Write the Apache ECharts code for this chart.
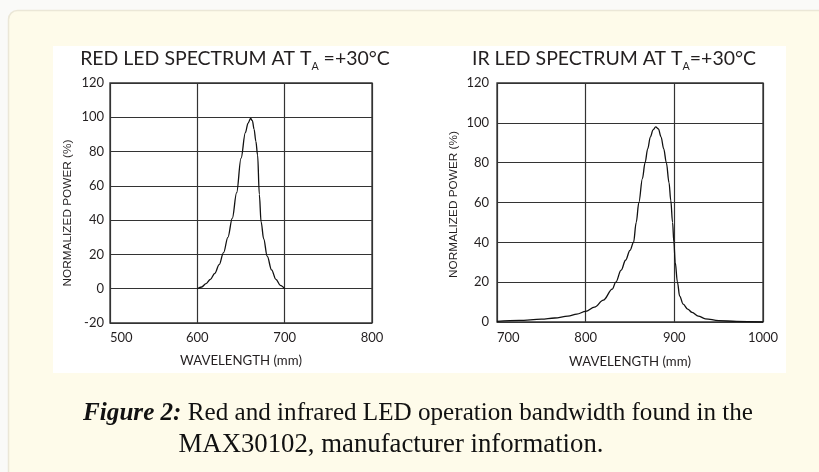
<!DOCTYPE html>
<html>
<head>
<meta charset="utf-8">
<script src="https://cdn.jsdelivr.net/npm/echarts@6/dist/echarts.min.js"></script>
<style>
html,body{margin:0;padding:0;background:#fafaf8;}
#chart{width:819px;height:472px;}
</style>
</head>
<body>
<div id="chart"></div>
<script>
// ---------- data ----------
const redWavelength = [600,605,610,615,620,625,630,635,640,645,650,655,658,661,663,665,667,669,671,673,676,680,685,690,695,700];
const redPower      = [0,1,3,5.5,9,14,21,30,41,56,76,91,96.5,99.3,98,93,86,78,55,39,29,19,11,5.5,2,0];

const irWavelength = [700,725,750,765,780,790,800,810,820,830,834,840,845,850,854,857,860,864,867,870,873,876,879,882,885,888,891,894,896,898,899.5,901,903.5,906,910,915,920,927,935,950,970,1000];
const irPower      = [0.3,0.8,1.4,2,3,4,5.3,7.5,11,16.5,20,26,31,36,40,50,60,72,80,87,93,96.5,98,97,93,87,80,70,61,50,40,30,20,13,9,6.5,4.8,3,1.6,0.7,0.3,0];

const redXTicks = [500,600,700,800];
const redYTicks = [-20,0,20,40,60,80,100,120];
const irXTicks  = [700,800,900,1000];
const irYTicks  = [0,20,40,60,80,100,120];

const redTitle = ['RED LED SPECTRUM AT T','A',' =+30°C'];
const irTitle  = ['IR LED SPECTRUM AT T','A','=+30°C'];
const xName = 'WAVELENGTH (mm)';
const yName = 'NORMALIZED POWER (%)';
const captionBold = 'Figure 2:';
const captionLine1 = ' Red and infrared LED operation bandwidth found in the';
const captionLine2 = 'MAX30102, manufacturer information.';

// ---------- text fitting helpers ----------
const ctx = document.createElement('canvas').getContext('2d');
function widthAt(parts, size){
  let w = 0;
  for (const p of parts){
    ctx.font = (p.style||'normal') + ' ' + (p.weight||'normal') + ' ' + (size*(p.scale||1)) + 'px ' + p.family;
    w += ctx.measureText(p.text).width;
  }
  return w;
}
function fit(parts, target){ return 100*target/widthAt(parts,100); }

const SANS = 'Lato';
const YFONT = "'Liberation Sans'";
const SERIF = "'Liberation Serif'";
const INK = '#231f20';
const SUB = 0.55;

const tL = fit([{text:redTitle[0],family:SANS},{text:redTitle[1],family:SANS,scale:SUB},{text:redTitle[2],family:SANS}], 306);
const tR = fit([{text:irTitle[0],family:SANS},{text:irTitle[1],family:SANS,scale:SUB},{text:irTitle[2],family:SANS}], 288);
const tSize = (tL+tR)/2;

const c1 = fit([{text:captionBold,family:SERIF,style:'italic',weight:'bold'},{text:captionLine1,family:SERIF}], 670);
const c2 = (c1 + fit([{text:captionLine2,family:SERIF}], 451)) / 2;

const xnSize = fit([{text:xName,family:SANS}], 122);
const ynSize = fit([{text:yName,family:YFONT}], 147);

function titleRich(){
  return {
    m: {fontFamily:SANS, fontSize:tSize, fontWeight:'normal', color:INK},
    s: {fontFamily:SANS, fontSize:tSize*SUB, fontWeight:'normal', color:INK, padding:[tSize*0.84,0,0,0]}
  };
}
function chartTitle(parts, cx){
  return {
    text: '{m|' + parts[0] + '}{s|' + parts[1] + '}{m|' + parts[2] + '}',
    left: cx, top: 58.5, padding: 0,
    textAlign: 'center', textVerticalAlign: 'middle',
    textStyle: {fontWeight:'normal', rich: titleRich()}
  };
}

const GRIDLINE = {color:'#333', width:1.2};
function xAxisCfg(grid, ticks, margin, gap){
  return {
    type:'value', gridIndex:grid,
    min: ticks[0], max: ticks[ticks.length-1], interval: ticks[1]-ticks[0],
    axisLine:{show:false}, axisTick:{show:false},
    splitLine:{show:true, lineStyle:GRIDLINE},
    axisLabel:{margin:margin, fontFamily:SANS, fontSize:13, color:INK, alignMinLabel:'left', formatter:v => String(v)},
    name: xName, nameLocation:'middle', nameGap:gap,
    nameTextStyle:{fontFamily:SANS, fontSize:xnSize, color:INK}
  };
}
function yAxisCfg(grid, ticks, margin, gap, shift){
  return {
    type:'value', gridIndex:grid,
    min: ticks[0], max: ticks[ticks.length-1], interval: ticks[1]-ticks[0],
    axisLine:{show:false}, axisTick:{show:false},
    splitLine:{show:true, lineStyle:GRIDLINE},
    axisLabel:{margin:margin, fontFamily:SANS, fontSize:13, color:INK, formatter:v => String(v)},
    name: yName, nameLocation:'middle', nameGap:gap,
    nameTextStyle:{fontFamily:YFONT, fontSize:ynSize, color:INK, padding:[0,shift*2,0,0]}
  };
}

const chart = echarts.init(document.getElementById('chart'), null, {renderer:'canvas'});
chart.setOption({
  animation:false,
  backgroundColor:'transparent',
  graphic:[
    {type:'rect', z:-100, shape:{x:8.5, y:10.5, width:830, height:480, r:9}, style:{fill:'#fefbea', stroke:'#ebe7d7', lineWidth:1.5}},
    {type:'rect', z:-99, shape:{x:53, y:46, width:733, height:327}, style:{fill:'#ffffff'}}
  ],
  title:[
    chartTitle(redTitle, 235),
    chartTitle(irTitle, 614),
    {
      text:'{b|' + captionBold + '}{r|' + captionLine1 + '}',
      left:418, top:413, padding:0, textAlign:'center', textVerticalAlign:'middle',
      textStyle:{fontWeight:'normal', rich:{
        b:{fontFamily:SERIF, fontSize:c1, fontStyle:'italic', fontWeight:'bold', color:'#111'},
        r:{fontFamily:SERIF, fontSize:c1, fontWeight:'normal', color:'#111'}
      }}
    },
    {
      text:captionLine2, left:391, top:445, padding:0, textAlign:'center', textVerticalAlign:'middle',
      textStyle:{fontFamily:SERIF, fontSize:c2, fontWeight:'normal', color:'#111'}
    }
  ],
  grid:[
    {left:110, top:83, width:262, height:240, show:true, borderColor:'#333', borderWidth:1.3, backgroundColor:'#fff', outerBoundsMode:'none'},
    {left:497, top:83, width:266, height:239, show:true, borderColor:'#333', borderWidth:1.3, backgroundColor:'#fff', outerBoundsMode:'none'}
  ],
  xAxis:[ xAxisCfg(0, redXTicks, 8, 31), xAxisCfg(1, irXTicks, 9, 33) ],
  yAxis:[ yAxisCfg(0, redYTicks, 6, 36, 10), yAxisCfg(1, irYTicks, 8, 37, 2) ],
  series:[
    {type:'line', xAxisIndex:0, yAxisIndex:0, data: redWavelength.map((w,i)=>[w, redPower[i]]),
     showSymbol:false, smooth:0.35, smoothMonotone:'x', lineStyle:{color:'#111', width:1.3}},
    {type:'line', xAxisIndex:1, yAxisIndex:1, data: irWavelength.map((w,i)=>[w, irPower[i]]),
     showSymbol:false, smooth:0.35, smoothMonotone:'x', lineStyle:{color:'#111', width:1.3}}
  ]
});
</script>
</body>
</html>
